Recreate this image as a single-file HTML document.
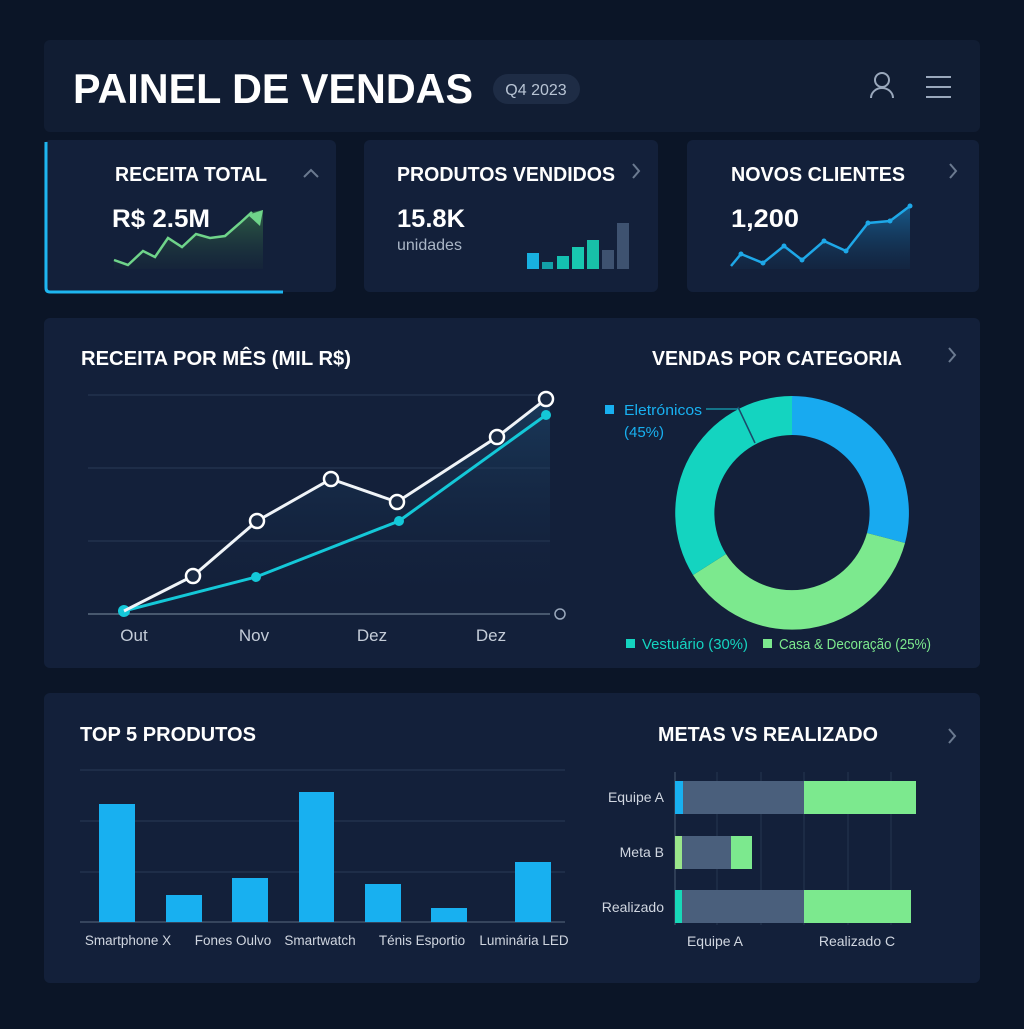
<!DOCTYPE html><html><head><style>
body{margin:0;width:1024px;height:1024px;background:#0b1527;font-family:"Liberation Sans",sans-serif;overflow:hidden}
</style></head><body>
<svg width="1024" height="1024" viewBox="0 0 1024 1024" font-family="Liberation Sans, sans-serif">
<defs>
<linearGradient id="g1" x1="0" y1="0" x2="0" y2="1"><stop offset="0" stop-color="#3a7a4a" stop-opacity=".7"/><stop offset="1" stop-color="#1a2e3a" stop-opacity=".3"/></linearGradient>
<linearGradient id="g2" x1="0" y1="0" x2="0" y2="1"><stop offset="0" stop-color="#1a6aa0" stop-opacity=".8"/><stop offset="1" stop-color="#123050" stop-opacity=".3"/></linearGradient>
<linearGradient id="g3" x1="0" y1="0" x2="0" y2="1"><stop offset="0" stop-color="#1e4a70" stop-opacity=".6"/><stop offset="1" stop-color="#13203a" stop-opacity="0"/></linearGradient>
</defs>
<rect width="1024" height="1024" fill="#0b1527"/>
<rect x="44" y="40" width="936" height="92" rx="6" fill="#111d33"/>
<text x="73" y="103" fill="#fff" font-size="42" font-weight="bold" textLength="400" lengthAdjust="spacingAndGlyphs">PAINEL DE VENDAS</text>
<rect x="493" y="74" width="87" height="30" rx="15" fill="#1e2c45"/>
<text x="536" y="95" fill="#b8c4d4" font-size="16" text-anchor="middle">Q4 2023</text>
<circle cx="882" cy="80" r="7" fill="none" stroke="#9aa8bc" stroke-width="2"/>
<path d="M871 98 a11 10 0 0 1 22 0" fill="none" stroke="#9aa8bc" stroke-width="2"/>
<path d="M926 77h25M926 87h25M926 97h25" stroke="#9aa8bc" stroke-width="2"/>
<!-- cards -->
<rect x="44" y="140" width="292" height="152" rx="6" fill="#13203a"/>
<path d="M46 142 V288 q0 4 4 4 H283" fill="none" stroke="#1eb6f0" stroke-width="3"/>
<text x="115" y="181" fill="#fff" font-size="20" font-weight="bold" textLength="152" lengthAdjust="spacingAndGlyphs">RECEITA TOTAL</text>
<path d="M304 177l7-7 7 7" fill="none" stroke="#6b7a90" stroke-width="2"/>
<text x="112" y="227" fill="#fff" font-size="25" font-weight="bold" textLength="98" lengthAdjust="spacingAndGlyphs">R$ 2.5M</text>
<path d="M114 260 L128 265 L143 251 L155 257 L168 238 L182 247 L196 234 L210 238 L225 236 L240 223 L252 212 L263 210 V269 H114Z" fill="url(#g1)"/>
<path d="M114 260 L128 265 L143 251 L155 257 L168 238 L182 247 L196 234 L210 238 L225 236 L240 223 L252 212" fill="none" stroke="#6fd48a" stroke-width="2.5"/>
<path d="M263 210 L248 215 L260 226Z" fill="#6fd48a"/>
<rect x="364" y="140" width="294" height="152" rx="6" fill="#13203a"/>
<text x="397" y="181" fill="#fff" font-size="20" font-weight="bold" textLength="218" lengthAdjust="spacingAndGlyphs">PRODUTOS VENDIDOS</text>
<path d="M633 164l6 7-6 7" fill="none" stroke="#6b7a90" stroke-width="2"/>
<text x="397" y="227" fill="#fff" font-size="25" font-weight="bold" textLength="68" lengthAdjust="spacingAndGlyphs">15.8K</text>
<text x="397" y="250" fill="#aab6c6" font-size="16">unidades</text>
<rect x="527" y="253" width="12" height="16" fill="#18b0e0"/>
<rect x="542" y="262" width="11" height="7" fill="#13a0a8"/>
<rect x="557" y="256" width="12" height="13" fill="#14c0b0"/>
<rect x="572" y="247" width="12" height="22" fill="#18c8b0"/>
<rect x="587" y="240" width="12" height="29" fill="#18c0a8"/>
<rect x="602" y="250" width="12" height="19" fill="#3e5270"/>
<rect x="617" y="223" width="12" height="46" fill="#3e5270"/>
<rect x="687" y="140" width="292" height="152" rx="6" fill="#13203a"/>
<text x="731" y="181" fill="#fff" font-size="20" font-weight="bold" textLength="174" lengthAdjust="spacingAndGlyphs">NOVOS CLIENTES</text>
<path d="M950 164l6 7-6 7" fill="none" stroke="#6b7a90" stroke-width="2"/>
<text x="731" y="227" fill="#fff" font-size="25" font-weight="bold" textLength="68" lengthAdjust="spacingAndGlyphs">1,200</text>
<path d="M731 266 L741 254 L763 263 L784 246 L802 260 L824 241 L846 251 L868 223 L890 221 L910 206 V269 H731Z" fill="url(#g2)"/>
<path d="M731 266 L741 254 L763 263 L784 246 L802 260 L824 241 L846 251 L868 223 L890 221 L910 206" fill="none" stroke="#1ea8e8" stroke-width="2.5"/>
<g fill="#1ea8e8"><circle cx="741" cy="254" r="2.5"/><circle cx="763" cy="263" r="2.5"/><circle cx="784" cy="246" r="2.5"/><circle cx="802" cy="260" r="2.5"/><circle cx="824" cy="241" r="2.5"/><circle cx="846" cy="251" r="2.5"/><circle cx="868" cy="223" r="2.5"/><circle cx="890" cy="221" r="2.5"/><circle cx="910" cy="206" r="2.5"/></g>
<!-- middle -->
<rect x="44" y="318" width="936" height="350" rx="6" fill="#13203a"/>
<text x="81" y="365" fill="#fff" font-size="20" font-weight="bold" textLength="270" lengthAdjust="spacingAndGlyphs">RECEITA POR MÊS (MIL R$)</text>
<g stroke="#2a3a55" stroke-width="1"><path d="M88 395H550M88 468H550M88 541H550"/></g>
<path d="M88 614H550" stroke="#5a6a80" stroke-width="1.5"/>
<path d="M124 611 L193 576 L257 521 L331 479 L397 502 L497 437 L546 399 L550 399 V614 H124Z" fill="url(#g3)"/>
<path d="M124 611 L256 577 L399 521 L546 415" fill="none" stroke="#14c8d8" stroke-width="3"/>
<g fill="#14c8d8"><circle cx="124" cy="611" r="6"/><circle cx="256" cy="577" r="5"/><circle cx="399" cy="521" r="5"/><circle cx="546" cy="415" r="5"/></g>
<path d="M124 611 L193 576 L257 521 L331 479 L397 502 L497 437 L546 399" fill="none" stroke="#f0f4f8" stroke-width="3"/>
<g fill="#1a2a44" stroke="#fff" stroke-width="2.5"><circle cx="193" cy="576" r="7"/><circle cx="257" cy="521" r="7"/><circle cx="331" cy="479" r="7"/><circle cx="397" cy="502" r="7"/><circle cx="497" cy="437" r="7"/><circle cx="546" cy="399" r="7"/></g>
<circle cx="560" cy="614" r="5" fill="none" stroke="#9aa8bc" stroke-width="1.5"/>
<g fill="#c4ccd8" font-size="17" text-anchor="middle"><text x="134" y="641">Out</text><text x="254" y="641">Nov</text><text x="372" y="641">Dez</text><text x="491" y="641">Dez</text></g>
<text x="652" y="365" fill="#fff" font-size="20" font-weight="bold" textLength="250" lengthAdjust="spacingAndGlyphs">VENDAS POR CATEGORIA</text>
<path d="M949 348l6 7-6 7" fill="none" stroke="#6b7a90" stroke-width="2"/>
<g transform="translate(792 513)" stroke="none">
<path d="M0 -117 A117 117 0 0 1 113 30 L75 20 A78 78 0 0 0 0 -78Z" fill="#18aaf0"/>
<path d="M113 30 A117 117 0 0 1 -99 62 L-66 41 A78 78 0 0 0 75 20Z" fill="#7ce98e"/>
<path d="M-99 62 A117 117 0 0 1 0 -117 L0 -78 A78 78 0 0 0 -66 41Z" fill="#14d4c0"/>
</g>
<path d="M738 407 L755 443" stroke="#1a4a6a" stroke-width="1.5"/>
<path d="M706 409 H738" stroke="#14c8d8" stroke-width="1"/>
<rect x="605" y="405" width="9" height="9" fill="#18b0f0"/>
<text x="624" y="415" fill="#18b0f0" font-size="15" textLength="78" lengthAdjust="spacingAndGlyphs">Eletrónicos</text>
<text x="624" y="437" fill="#18b0f0" font-size="15">(45%)</text>
<rect x="626" y="639" width="9" height="9" fill="#14d4c0"/>
<text x="642" y="649" fill="#14d4c0" font-size="15" textLength="106" lengthAdjust="spacingAndGlyphs">Vestuário (30%)</text>
<rect x="763" y="639" width="9" height="9" fill="#7ce98e"/>
<text x="779" y="649" fill="#7ce98e" font-size="15" textLength="152" lengthAdjust="spacingAndGlyphs">Casa &amp; Decoração (25%)</text>
<!-- bottom -->
<rect x="44" y="693" width="936" height="290" rx="6" fill="#13203a"/>
<text x="80" y="741" fill="#fff" font-size="20" font-weight="bold" textLength="176" lengthAdjust="spacingAndGlyphs">TOP 5 PRODUTOS</text>
<g stroke="#2a3a55"><path d="M80 770H565M80 821H565M80 872H565"/></g>
<path d="M80 922H565" stroke="#5a6a80"/>
<g fill="#18b0f0"><rect x="99" y="804" width="36" height="118"/><rect x="166" y="895" width="36" height="27"/><rect x="232" y="878" width="36" height="44"/><rect x="299" y="792" width="35" height="130"/><rect x="365" y="884" width="36" height="38"/><rect x="431" y="908" width="36" height="14"/><rect x="515" y="862" width="36" height="60"/></g>
<g fill="#d0d6e0" font-size="13.5" text-anchor="middle"><text x="128" y="945">Smartphone X</text><text x="233" y="945">Fones Oulvo</text><text x="320" y="945">Smartwatch</text><text x="422" y="945">Ténis Esportio</text><text x="524" y="945">Luminária LED</text></g>
<text x="658" y="741" fill="#fff" font-size="20" font-weight="bold" textLength="220" lengthAdjust="spacingAndGlyphs">METAS VS REALIZADO</text>
<path d="M949 729l6 7-6 7" fill="none" stroke="#6b7a90" stroke-width="2"/>
<g stroke="#263650"><path d="M717 772V925M761 772V925M804 772V925M848 772V925M891 772V925"/></g>
<path d="M675 772V925" stroke="#4a5a70"/>
<rect x="675" y="781" width="8" height="33" fill="#18b0f0"/><rect x="683" y="781" width="121" height="33" fill="#4a5f7c"/><rect x="804" y="781" width="112" height="33" fill="#7ce98e"/>
<rect x="675" y="836" width="7" height="33" fill="#9ae68a"/><rect x="682" y="836" width="49" height="33" fill="#4a5f7c"/><rect x="731" y="836" width="21" height="33" fill="#7ce98e"/>
<rect x="675" y="890" width="7" height="33" fill="#18d8b8"/><rect x="682" y="890" width="122" height="33" fill="#4a5f7c"/><rect x="804" y="890" width="107" height="33" fill="#7ce98e"/>
<g fill="#d0d6e0" font-size="14" text-anchor="end"><text x="664" y="802">Equipe A</text><text x="664" y="857">Meta B</text><text x="664" y="912">Realizado</text></g>
<g fill="#d0d6e0" font-size="14" text-anchor="middle"><text x="715" y="946">Equipe A</text><text x="857" y="946">Realizado C</text></g>
</svg>
</body></html>
